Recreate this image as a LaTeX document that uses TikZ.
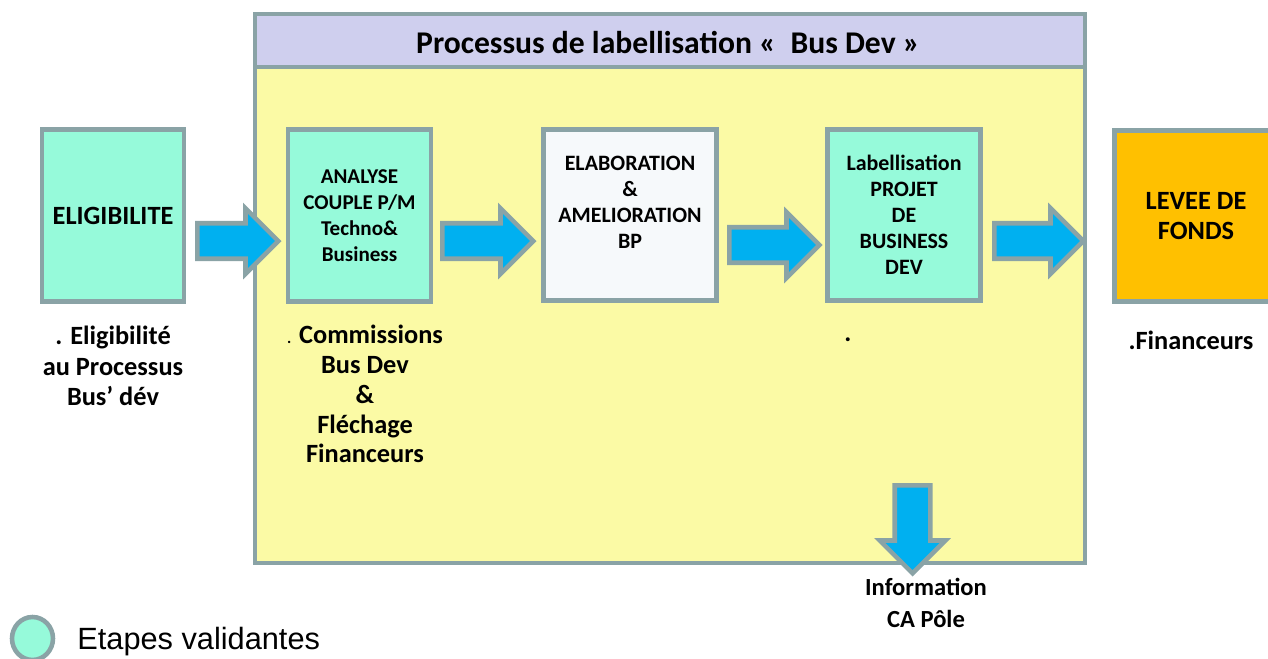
\documentclass[tikz,border=0pt]{standalone}
\usepackage{fontspec}
\setmainfont{Carlito}
\newfontfamily\legendfont{Liberation Sans}
\usepackage{xcolor}
\usetikzlibrary{shapes.arrows,shapes.geometric}
\definecolor{boxgray}{RGB}{138,163,166}
\definecolor{mint}{RGB}{150,250,218}
\definecolor{panelyellow}{RGB}{251,250,165}
\definecolor{headlav}{RGB}{207,207,238}
\definecolor{fundorange}{RGB}{255,192,0}
\definecolor{flowblue}{RGB}{0,176,240}
\definecolor{paleblue}{RGB}{246,249,251}
\tikzset{
	stepbox/.style={
			draw=boxgray, line width=2.6pt, fill=#1, align=center,
			font=\bfseries\fontsize{12.5}{14.8}\selectfont
		},
	bigtext/.style={align=center, font=\bfseries\fontsize{15}{17}\selectfont},
	flow/.style={
			single arrow, draw=boxgray, fill=flowblue, line width=2.6pt,
			inner xsep=0pt, inner ysep=0.31cm, single arrow head extend=0.3cm,
			minimum height=#1, anchor=tail
		}
}

\begin{document}
\begin{tikzpicture}[x=0.02cm,y=-0.02cm]
			\useasboundingbox (0,0) rectangle (1268,659);

			% Draw the panel
			\draw[boxgray, line width=2.6pt, fill=panelyellow] (255,14) rectangle (1085,563);
			\draw[boxgray, line width=2.6pt, fill=headlav] (255,14) rectangle (1085,67);
			\node[font=\bfseries\fontsize{18}{20}\selectfont] (title) at (668,42) {Processus de labellisation «~ Bus Dev »};

			% Draw the steps
			\node[stepbox=mint, minimum width=2.84cm, minimum height=3.44cm, font=\bfseries\fontsize{15}{17}\selectfont] (elig) at (113,215.5) {ELIGIBILITE};
			\node[stepbox=mint, minimum width=2.86cm, minimum height=3.44cm, font=\bfseries\fontsize{12}{14.8}\selectfont] (analyse) at (359.5,215.5) {ANALYSE\\COUPLE P/M\\Techno\&\\Business};
			\node[stepbox=paleblue, minimum width=3.46cm, minimum height=3.42cm] (elab) at (630,215) {ELABORATION\\\&\\AMELIORATION\\BP\\\mbox{}};
			\node[stepbox=mint, minimum width=3.06cm, minimum height=3.42cm] (label) at (904,215) {Labellisation\\PROJET\\DE\\BUSINESS\\DEV};
			\node[stepbox=fundorange, minimum width=3.26cm, minimum height=3.42cm, font=\bfseries\fontsize{15}{17.4}\selectfont] (levee) at (1196,216) {LEVEE DE\\FONDS};

			% Draw the flow arrows
			\node[flow=1.62cm] (a1) at (195,241) {};
			\node[flow=1.82cm] (a2) at (440,241) {};
			\node[flow=1.80cm] (a3) at (727,245) {};
			\node[flow=1.78cm] (a4) at (992,241) {};
			\node[flow=1.76cm, shape border rotate=270, inner xsep=0.31cm, inner ysep=0pt] (a5) at (912.5,483) {};

			% Texts under the steps
			\node[bigtext, font=\bfseries\fontsize{15}{17.2}\selectfont] (eligtxt) at (113,366) {. Eligibilité\\au Processus\\Bus’ dév};
			\node[bigtext] (commtxt) at (365,394) {{\fontsize{9}{9}\selectfont .} Commissions\\Bus Dev\\\&\\Fléchage\\Financeurs};
			\node[bigtext] (dot) at (848,340) {.};
			\node[bigtext] (fintxt) at (1191,340) {.Financeurs};
			\node[bigtext, font=\bfseries\fontsize{14}{18}\selectfont] (info) at (926,603) {Information\\CA Pôle};

			% Legend
			\node[ellipse, draw=boxgray, fill=mint, line width=2.6pt, minimum width=0.82cm, minimum height=0.86cm] (leg) at (32.5,638.5) {};
			\node[anchor=west, font=\legendfont\fontsize{17.5}{20}\selectfont, inner sep=0pt] (legtxt) at (77,642) {Etapes validantes};
		\end{tikzpicture}
\end{document}
